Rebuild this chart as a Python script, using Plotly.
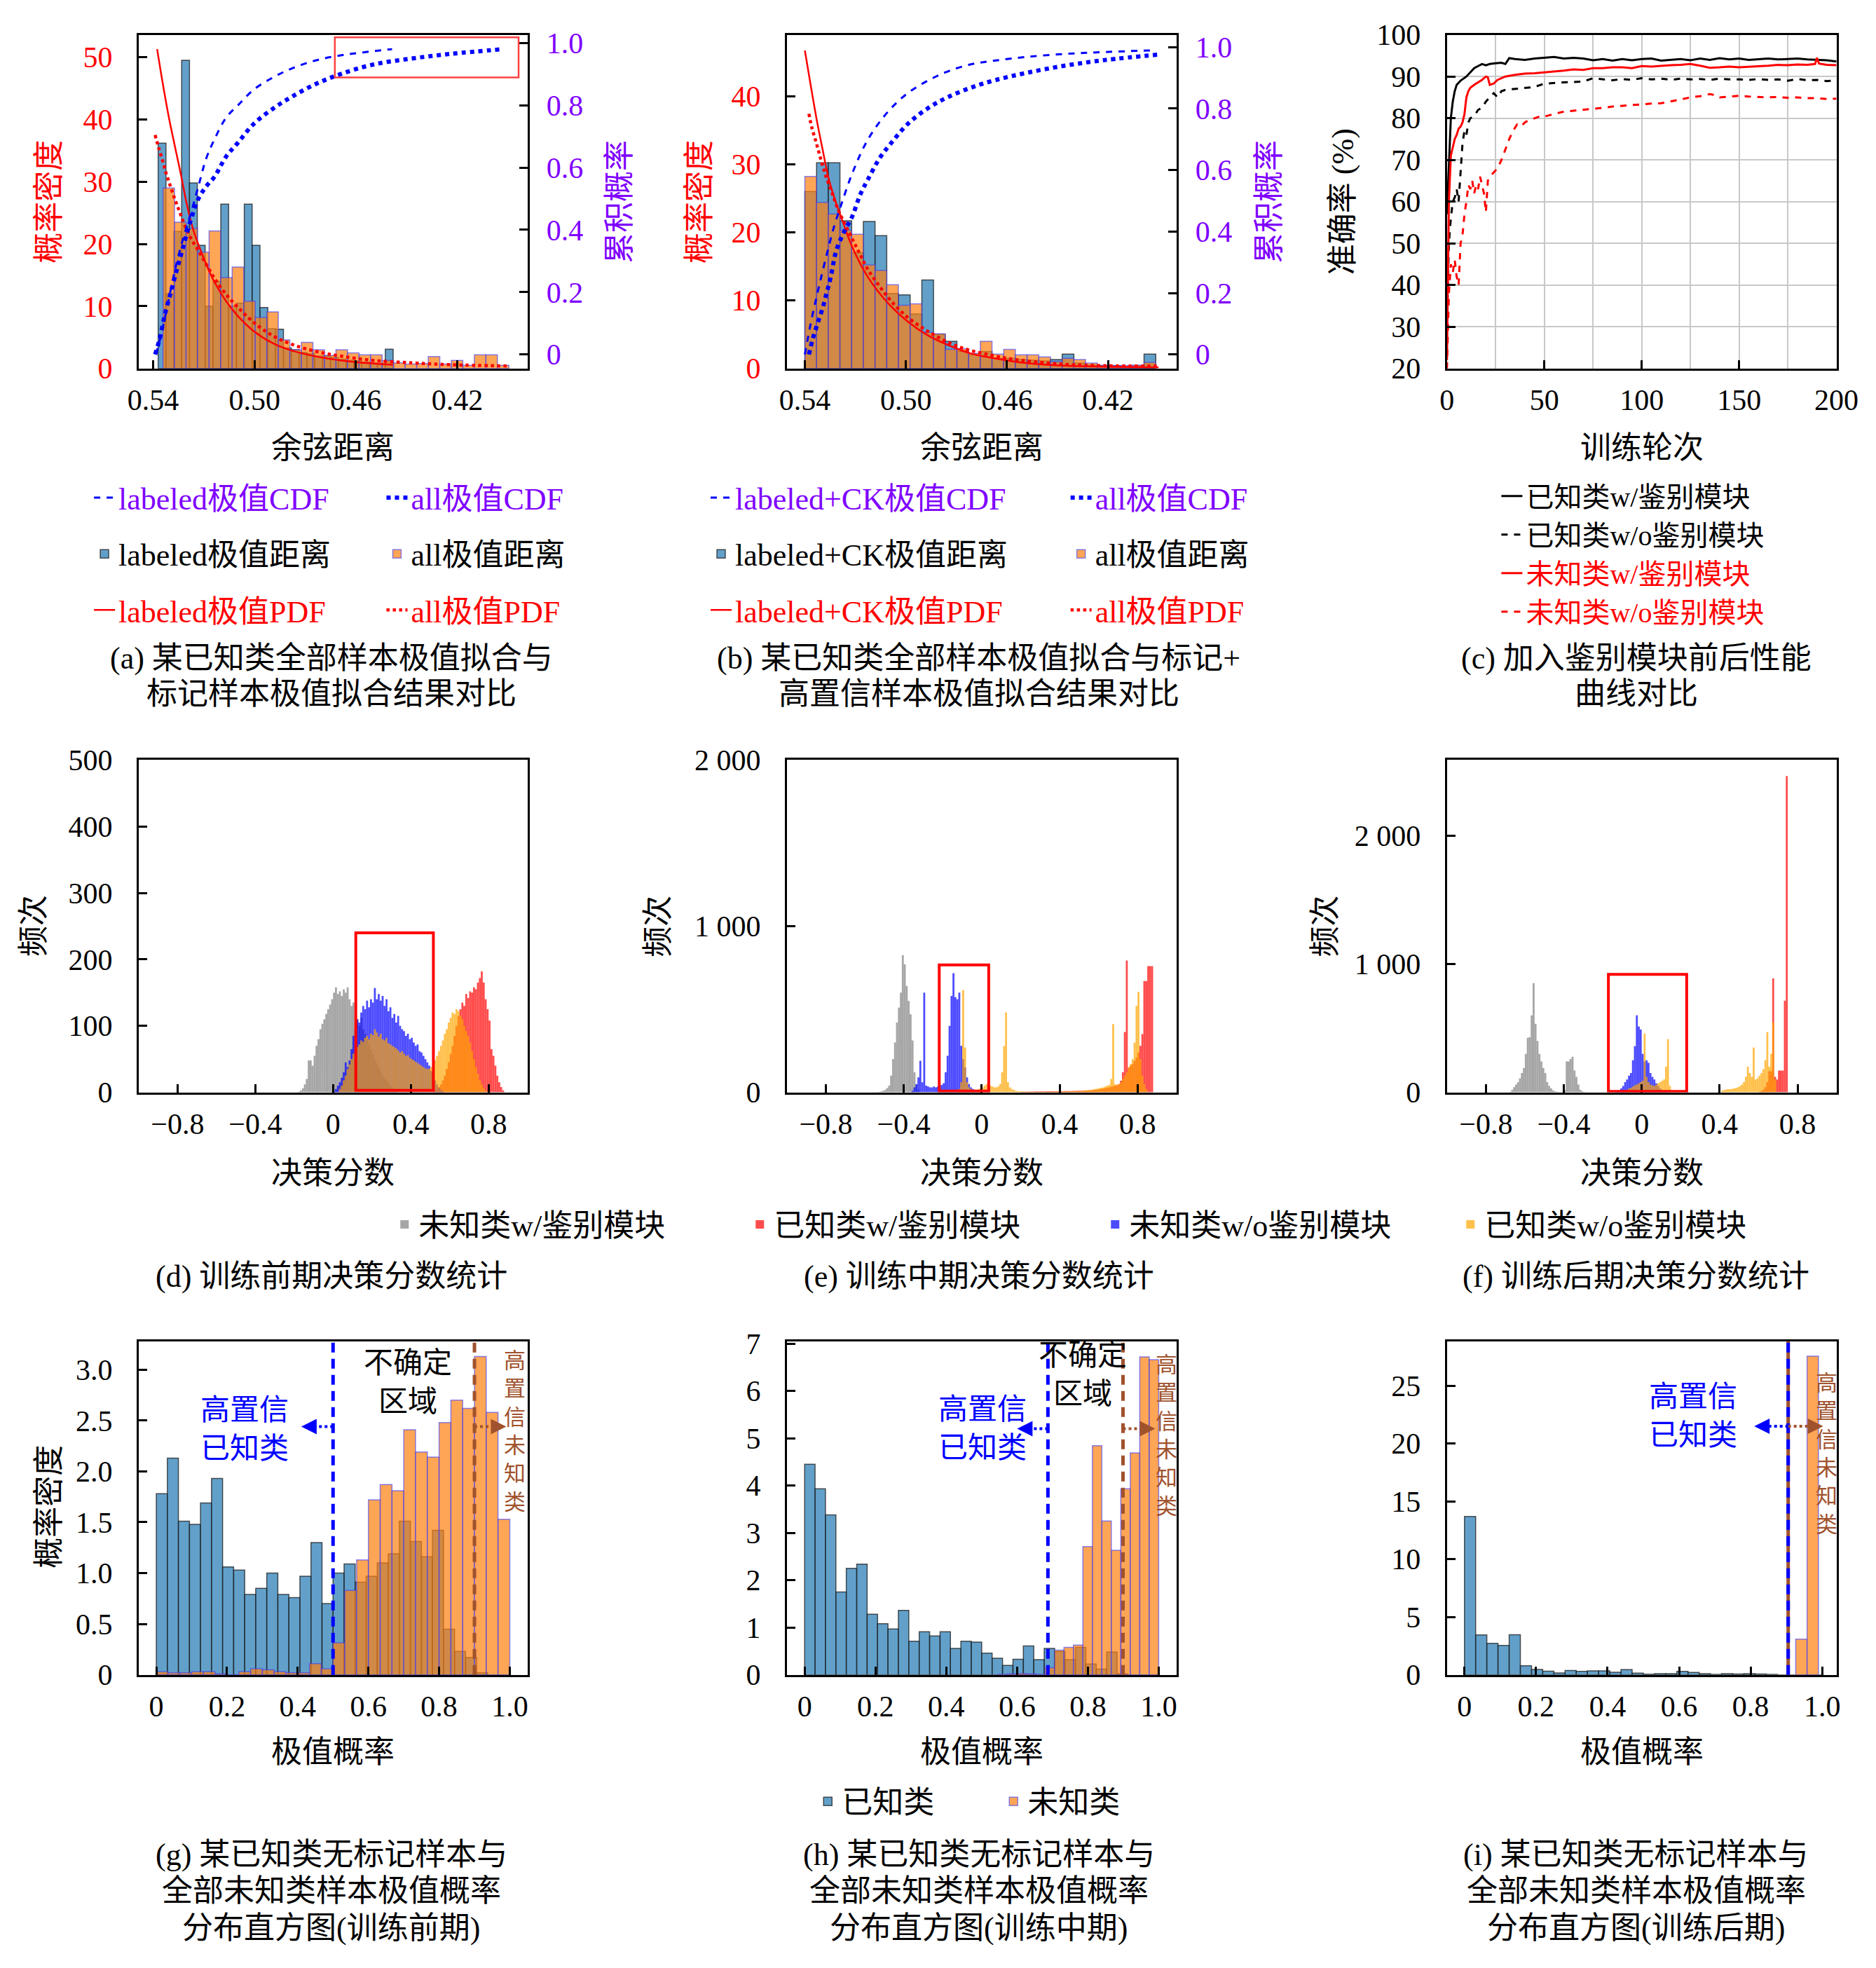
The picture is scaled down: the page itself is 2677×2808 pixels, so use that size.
import numpy as np
import plotly.graph_objects as go

W, H = 2677, 2808
FONT = "Liberation Serif, Noto Sans CJK SC, serif"

RED = "#ff0000"
PURPLE = "#7f00ff"
BLUE = "#0000ff"
BROWN = "#a0522d"
HIST_BLUE = "rgba(31,119,180,0.7)"
HIST_ORANGE = "rgba(255,127,14,0.7)"
EDGE_DARK = "rgba(30,30,30,0.75)"
EDGE_BLUE = "rgba(60,60,255,0.6)"
SC_GRAY = "rgba(128,128,128,0.7)"
SC_RED = "rgba(255,0,0,0.7)"
SC_BLUE = "rgba(0,0,255,0.7)"
SC_ORANGE = "rgba(255,165,0,0.7)"

# ---------------- (a) extreme-value fitting, labeled vs all ----------------
a_lab_edge0, a_lab_w = 0.5380, 0.00309
a_lab_counts = [36.2, 12.0, 22.0, 49.5, 29.8, 19.8, 10.0, 14.0, 26.4, 10.0,
                10.5, 26.4, 19.8, 9.8, 6.4, 6.3, 3.3, 3.0, 2.6, 2.4,
                2.0, 2.0, 1.8, 1.5, 1.3, 1.2, 1.0, 0.9, 0.8, 3.1]
a_all_edge0, a_all_w = 0.5361, 0.00455
a_all_counts = [29.0, 23.5, 22.5, 18.7, 22.1, 14.6, 16.3, 10.8, 8.2, 9.1,
                4.6, 3.0, 4.2, 3.0, 2.1, 3.0, 2.5, 2.2, 2.2, 1.3,
                0.9, 0.7, 0.8, 1.9, 0.7, 1.3, 0.5, 2.2, 2.2, 0.5]
a_lab_pdf_x = [0.5384, 0.5361, 0.5338, 0.5314, 0.5291, 0.5268, 0.5244, 0.5221, 0.5190, 0.5158,
               0.5112, 0.5065, 0.5003, 0.4925, 0.4847, 0.4753, 0.4660, 0.4566, 0.4454]
a_lab_pdf_y = [51.3, 45.6, 40.4, 35.7, 31.3, 26.6, 22.6, 19.9, 16.7, 13.9,
               10.8, 8.4, 6.0, 4.0, 2.8, 1.9, 1.3, 0.9, 0.6]
a_all_pdf_x = [0.5392, 0.5377, 0.5361, 0.5349, 0.5335, 0.5321, 0.5307, 0.5292, 0.5275, 0.5252,
               0.5221, 0.5190, 0.5158, 0.5112, 0.5065, 0.5003, 0.4925, 0.4847, 0.4753, 0.4660,
               0.4535, 0.4379, 0.4224, 0.4005]
a_all_pdf_y = [37.5, 35.3, 33.2, 31.4, 29.7, 28.0, 26.4, 24.8, 23.0, 21.0,
               18.9, 16.7, 14.5, 11.9, 9.8, 7.4, 5.2, 3.8, 2.7, 2.0,
               1.3, 0.9, 0.6, 0.4]
a_lab_cdf_x = [0.5389, 0.5369, 0.5345, 0.5322, 0.5299, 0.5275, 0.5252, 0.5221, 0.5190, 0.5158,
               0.5112, 0.5065, 0.5003, 0.4925, 0.4847, 0.4753, 0.4660, 0.4566, 0.4457]
a_lab_cdf_y = [0.0, 0.06, 0.15, 0.24, 0.32, 0.39, 0.45, 0.54, 0.63, 0.69,
               0.76, 0.80, 0.85, 0.89, 0.92, 0.945, 0.96, 0.97, 0.98]
a_all_cdf_x = [0.5392, 0.5374, 0.5353, 0.5330, 0.5307, 0.5283, 0.5252, 0.5221, 0.5190, 0.5158,
               0.5112, 0.5065, 0.5003, 0.4925, 0.4847, 0.4753, 0.4660, 0.4535, 0.4379, 0.4224,
               0.4018]
a_all_cdf_y = [0.0, 0.05, 0.13, 0.20, 0.27, 0.34, 0.43, 0.50, 0.54, 0.57,
               0.635, 0.68, 0.74, 0.79, 0.83, 0.87, 0.90, 0.93, 0.95, 0.965,
               0.98]

# ---------------- (b) labeled+CK vs all ----------------
b_edge0, b_w = 0.5400, 0.00463
b_lab_counts = [26.0, 30.2, 30.2, 21.7, 17.0, 21.6, 19.5, 11.0, 10.8, 8.0,
                13.0, 5.0, 4.0, 2.5, 2.0, 2.5, 1.5, 1.5, 1.3, 1.2,
                1.1, 1.3, 2.1, 0.8, 0.5, 0.4, 0.4, 0.3, 0.4, 2.1]
b_all_counts = [28.2, 24.4, 22.7, 20.3, 19.7, 15.2, 14.4, 12.3, 9.3, 9.5,
                5.3, 5.1, 2.8, 2.9, 2.2, 4.0, 2.1, 2.8, 2.0, 2.0,
                1.7, 1.0, 1.5, 1.3, 0.8, 0.5, 0.4, 0.4, 0.5, 0.9]
b_lab_pdf_x = [0.5400, 0.5377, 0.5353, 0.5330, 0.5306, 0.5283, 0.5259, 0.5212, 0.5150, 0.5071,
               0.4993, 0.4915, 0.4837, 0.4743, 0.4649, 0.4524, 0.4368, 0.4211, 0.4000]
b_lab_pdf_y = [46.7, 41.6, 36.5, 32.2, 27.9, 25.0, 22.5, 17.8, 13.4, 9.6,
               6.9, 4.9, 3.5, 2.2, 1.5, 0.8, 0.4, 0.25, 0.15]
b_all_pdf_x = [0.5384, 0.5372, 0.5356, 0.5342, 0.5328, 0.5314, 0.5298, 0.5284, 0.5267, 0.5244,
               0.5212, 0.5181, 0.5150, 0.5103, 0.5056, 0.4993, 0.4915, 0.4837, 0.4759, 0.4680,
               0.4602, 0.4524, 0.4368, 0.4211, 0.3995]
b_all_pdf_y = [37.4, 35.3, 33.3, 31.4, 29.6, 27.9, 26.4, 24.9, 23.2, 21.4,
               19.0, 16.7, 14.5, 12.0, 9.8, 7.5, 5.5, 3.9, 2.8, 2.1,
               1.5, 1.1, 0.6, 0.4, 0.35]
b_lab_cdf_x = [0.5400, 0.5377, 0.5353, 0.5330, 0.5306, 0.5283, 0.5259, 0.5212, 0.5150, 0.5071,
               0.4993, 0.4915, 0.4837, 0.4743, 0.4649, 0.4524, 0.4368, 0.4211, 0.4008]
b_lab_cdf_y = [0.0, 0.10, 0.19, 0.27, 0.35, 0.42, 0.48, 0.59, 0.70, 0.79,
               0.85, 0.89, 0.92, 0.944, 0.956, 0.968, 0.978, 0.984, 0.99]
b_all_cdf_x = [0.5384, 0.5369, 0.5350, 0.5330, 0.5314, 0.5298, 0.5275, 0.5244, 0.5212, 0.5181,
               0.5150, 0.5103, 0.5056, 0.4993, 0.4915, 0.4837, 0.4743, 0.4649, 0.4524, 0.4368,
               0.4211, 0.3995]
b_all_cdf_y = [0.0, 0.05, 0.10, 0.15, 0.20, 0.25, 0.34, 0.40, 0.45, 0.52,
               0.57, 0.64, 0.69, 0.75, 0.80, 0.836, 0.868, 0.892, 0.916, 0.94,
               0.958, 0.976]

# ---------------- (c) accuracy curves ----------------
c_ep_known_w = [0, 1, 2, 3, 4, 5, 7, 10, 12, 14, 16, 18, 20, 22, 25, 28, 30,
                32, 35, 40, 45, 50, 55, 60, 65, 70, 75] + list(range(80, 201, 5))
c_acc_known_w = [57, 70, 80, 84, 86.5, 88, 89, 90, 91, 92, 92.5, 93, 92.7, 93, 93.2, 93.3, 93.0,
                 94.4, 94.2, 94.0, 94.3, 94.5, 94.7, 94.3, 94.5, 94.3, 93.9,
                 94.2, 93.8, 94.2, 93.9, 94.2, 94.3, 93.8, 94.0, 94.2, 93.9, 94.3, 94.0, 94.4,
                 94.1, 94.3, 94.0, 94.1, 94.3, 94.1, 94.2, 94.3, 94.1, 94.0, 93.9, 93.6]
c_ep_known_wo = list(range(0, 13)) + [14, 16, 18, 20, 22, 24, 26, 28, 30,
                                      35, 40, 45, 50, 55, 60, 65, 70, 75] + list(range(80, 201, 5))
c_acc_known_wo = [30, 50, 56, 60, 61, 63, 60, 68, 74, 77, 76, 79, 80,
                  80.5, 82, 82.5, 84, 85, 86, 85, 86.5, 86.8,
                  87, 87.3, 87.5, 88.3, 88.5, 88.6, 88.7, 88.8, 89.6,
                  89.3, 89.1, 89.4, 89.2, 89.6, 89.3, 89.5, 89.2, 89.5, 89.3, 89.4, 89.2, 89.5,
                  89.3, 89.3, 89.2, 89.4, 89.2, 89.3, 89.0, 89.4, 89.1, 89.2, 88.9, 89.1]
c_ep_unknown_w = list(range(0, 13)) + [14, 16, 18, 20, 21, 22, 24, 26, 28, 30] + \
    list(range(35, 186, 5)) + [189, 190, 191, 195, 200]
c_acc_unknown_w = [22, 60, 71, 73, 75, 76, 77.5, 78, 79, 81, 85, 86.5, 87.3,
                   88, 88.6, 89.2, 90, 89.8, 88, 88.3, 89.2, 89.6, 90,
                   90.4, 90.7, 90.8, 91, 91.1, 91.4, 91.7, 91.6, 92, 92, 92.2, 92.2, 92, 92.5,
                   92.4, 92.6, 92.7, 92.8, 93, 92.6, 92.1, 92.2, 92.4, 92.2, 92.3, 92.5, 92.6,
                   92.8, 92.7, 92.9, 92.8,
                   93, 94.5, 93.1, 92.8, 92.7]
c_ep_unknown_wo = list(range(0, 23)) + [24, 26, 28, 30, 32, 34, 36, 38, 40, 42, 45, 48, 50] + \
    list(range(55, 136, 5)) + [138, 140] + list(range(145, 201, 5))
c_acc_unknown_wo = [20, 38, 45, 43, 46, 42, 40, 50, 52, 57, 60, 64, 63, 65, 62, 64, 63, 66, 64, 62,
                    57.5, 65, 66,
                    67, 68, 70, 72.5, 75, 77, 78.5, 78, 79, 79.5, 80, 80.5, 80.4,
                    81, 81.6, 81.8, 82, 82.3, 82.5, 82.8, 83, 83.2, 83.4, 83.5, 83.6, 84.0, 84.5,
                    85, 85.3, 85.8,
                    85.5, 85,
                    85.2, 85.4, 85.2, 85.1, 85.0, 85.1, 84.9, 85.0, 84.8, 84.8, 84.6, 84.7]

# ---------------- (d)(e)(f) decision-score histograms (bin 0.01) ----------------
SCORE_BIN = 0.01
d_gray_x0 = -0.18
d_gray = [1, 3, 6, 12, 20, 48, 48, 40, 55, 70, 80, 95, 103, 110, 118, 125, 132, 140, 150, 158,
          148, 152, 145, 155, 150, 158, 140, 130, 135, 118, 110, 100, 112, 95, 88, 80, 72, 65, 58, 50,
          44, 38, 32, 27, 22, 18, 14, 10, 7, 5, 3]
d_red_x0 = 0.52
d_red = [3, 5, 8, 12, 18, 25, 35, 45, 58, 70, 85, 100, 115, 125, 135, 130, 148, 142, 152, 150,
         158, 155, 165, 172, 182, 165, 140, 125, 108, 65, 55, 40, 25, 15, 8, 3]
d_blue_x0 = 0.00
d_blue = [2, 5, 10, 15, 22, 30, 45, 38, 48, 65, 85, 95, 110, 105, 120, 130, 125, 138, 128, 140,
          135, 157, 140, 148, 138, 145, 130, 140, 122, 128, 112, 118, 105, 115, 100, 95, 92, 85, 88, 80,
          82, 75, 70, 72, 62, 60, 55, 50, 45, 40, 32, 25, 18, 12, 7, 4, 2]
d_orange_x0 = 0.03
d_orange = [5, 10, 18, 25, 35, 42, 50, 58, 62, 68, 72, 78, 76, 82, 85, 80, 88, 86, 95, 90,
            84, 88, 80, 78, 82, 74, 72, 70, 68, 66, 63, 60, 62, 58, 55, 56, 52, 50, 48, 46,
            44, 42, 40, 38, 36, 35, 36, 38, 42, 48, 55, 62, 70, 78, 88, 95, 105, 112, 120, 118,
            125, 122, 115, 110, 100, 92, 85, 75, 62, 50, 38, 28, 18, 12, 6, 3]
d_box = [0.117, 0.516, 3, 240]

e_gray_x0 = -0.54
e_gray = [2, 3, 5, 10, 15, 25, 40, 100, 200, 300, 420, 510, 600, 826, 770, 640, 550, 470, 312, 120,
          45, 15]
e_red_x0 = 0.20
e_red = [3, 3, 3, 4, 4, 4, 4, 5, 5, 5, 5, 5, 5, 6, 6, 6, 6, 6, 7, 7,
         7, 7, 8, 8, 8, 8, 9, 9, 9, 10, 10, 10, 11, 11, 12, 12, 13, 14, 15, 16,
         18, 20, 22, 25, 28, 30, 33, 36, 40, 45, 50, 70, 120, 363, 793, 150, 160, 170, 190, 210,
         240, 280, 350, 670, 670, 759, 760, 760, 0]
e_blue_x0 = -0.36
e_blue = [10, 30, 50, 90, 190, 60, 600, 40, 35, 30, 30, 35, 30, 35, 40, 45, 55, 120, 220, 400,
          580, 717, 573, 560, 600, 280, 200, 150, 90, 50, 30, 20, 12, 8, 5]
e_orange_x0 = -0.12
e_orange = [20, 60, 615, 270, 60, 30, 20, 15, 12, 15, 20, 25, 30, 40, 50, 45, 40, 35, 30, 30,
            35, 50, 120, 278, 481, 60, 30, 20, 15, 10, 8, 6, 5, 4, 4, 3, 3, 3, 3, 3,
            3, 3, 3, 3, 3, 3, 3, 3, 4, 4, 4, 4, 4, 5, 5, 5, 5, 6, 6, 7,
            7, 8, 8, 10, 10, 12, 12, 15, 15, 18, 20, 22, 25, 28, 30, 35, 40, 45, 80, 410,
            50, 45, 50, 60, 80, 100, 120, 150, 170, 200, 300, 520, 604, 200, 100, 50, 20]
e_box = [-0.218, 0.036, 8, 767]

f_gray_x0 = -0.68
f_gray = [5, 20, 40, 60, 80, 109, 150, 190, 300, 425, 430, 600, 851, 534, 400, 300, 240, 190, 150, 80,
          50, 30, 15, 8, 5, 3, 3, 5, 20, 240, 240, 260, 277, 170, 120, 60, 20, 8, 3]
f_red_x0 = 0.60
f_red = [5, 10, 20, 40, 80, 164, 164, 888, 120, 100, 170, 170, 170, 715, 2465]
f_blue_x0 = -0.13
f_blue = [5, 15, 30, 50, 80, 100, 130, 150, 250, 360, 600, 513, 490, 300, 240, 250, 230, 150, 120, 100,
          70, 50, 30, 15, 8, 4, 2]
f_orange_x0 = -0.10
f_orange = [10, 15, 20, 30, 35, 45, 55, 60, 70, 80, 90, 458, 120, 80, 60, 55, 50, 60, 70, 80,
            90, 100, 200, 414, 50, 20, 10, 5, 2, 1, 0, 0, 0, 0, 0, 0, 0, 0, 0, 0,
            0, 0, 0, 0, 0, 0, 0, 0, 0, 0, 3, 15, 20, 22, 25, 25, 28, 30, 35, 40,
            50, 60, 80, 120, 200, 150, 120, 349, 100, 110, 130, 150, 180, 250, 469, 200, 300, 545, 100]
f_box = [-0.171, 0.231, 7, 920]

# ---------------- (g)(h)(i) extreme-probability histograms ----------------
g_known_w = 1 / 32
g_known = [1.78, 2.13, 1.51, 1.48, 1.69, 1.93, 1.06, 1.03, 0.79, 0.85, 1.00, 0.79, 0.76, 0.97, 1.30, 0.70,
           1.00, 1.09, 0.91, 0.97, 1.10, 1.19, 1.51, 1.31, 1.16, 1.42, 0.45, 0.23, 0.17, 0.02, 0.0, 0.0]
g_unknown_w = 1 / 30
g_unknown = [0.03, 0.02, 0.02, 0.03, 0.03, 0.01, 0.0, 0.03, 0.06, 0.05, 0.03, 0.02, 0.02, 0.11, 0.06,
             0.315, 0.83, 1.13, 1.72, 1.87, 1.81, 2.41, 2.19, 2.14, 2.48, 2.70, 2.62, 3.13, 2.58, 1.53]
g_thr_known, g_thr_unknown = 0.5, 0.9

h_known_w = 1 / 34
h_known = [4.45, 3.93, 3.38, 1.75, 2.25, 2.34, 1.28, 1.08, 0.97, 1.36, 0.71, 0.91, 0.82, 0.91, 0.56, 0.71,
           0.69, 0.46, 0.35, 0.20, 0.33, 0.61, 0.32, 0.56, 0.49, 0.32, 0.58, 0.23, 0.12, 0.48, 0.02, 0.0,
           0.0, 0.0]
h_unknown_x0, h_unknown_w = 0.545, 0.02675
h_unknown = [0.01, 0.02, 0.03, 0.02, 0.01, 0.15, 0.52, 0.58, 0.63, 2.71, 4.84, 3.25, 2.63, 3.93, 4.69,
             6.72, 6.66]
h_thr_known, h_thr_unknown = 0.687, 0.899

i_known_w = 1 / 32
i_known = [13.7, 3.45, 2.73, 2.54, 3.47, 0.79, 0.47, 0.32, 0.17, 0.38, 0.30, 0.34, 0.34, 0.23, 0.45, 0.15,
           0.06, 0.10, 0.10, 0.30, 0.21, 0.10, 0.04, 0.10, 0.08, 0.10, 0.08, 0.04, 0.0, 0.0, 0.0, 0.0]
i_unknown_x0, i_unknown_w = 0.926, 0.0318
i_unknown = [3.09, 27.56]
i_thr = 0.905


def px(v):
    return v / W


def py(v):
    return 1 - v / H


def tf(color="black", size=42):
    return dict(family=FONT, size=size, color=color)


def span(text, color):
    return f'<span style="color:{color}">{text}</span>'


def centers(x0, w, n, sign=1):
    return x0 + sign * w * (np.arange(n) + 0.5)


def axis(**kw):
    base = dict(showline=True, linecolor="black", linewidth=3, mirror=True,
                ticks="inside", ticklen=12, tickwidth=2.5, tickcolor="black",
                showgrid=False, zeroline=False, ticklabelstandoff=26, tickfont=tf())
    base.update(kw)
    return base


def xaxis_(**kw):
    return axis(ticklabelstandoff=6, **kw)


def right_axis(**kw):
    base = dict(side="right", showline=False, ticks="inside", ticklen=12, tickwidth=2.5,
                tickcolor="black", showgrid=False, zeroline=False, ticklabelstandoff=26,
                tickfont=tf(PURPLE))
    base.update(kw)
    return base


fig = go.Figure()

# ---- row 1: (a) and (b) ----
row1_sets = [
    dict(xa="x", ya="y", y2="y2", la="legend", lb="legend2", tag="labeled",
         lab=(a_lab_edge0, a_lab_w, a_lab_counts), all=(a_all_edge0, a_all_w, a_all_counts),
         lpdf=(a_lab_pdf_x, a_lab_pdf_y), apdf=(a_all_pdf_x, a_all_pdf_y),
         lcdf=(a_lab_cdf_x, a_lab_cdf_y), acdf=(a_all_cdf_x, a_all_cdf_y)),
    dict(xa="x2", ya="y3", y2="y4", la="legend3", lb="legend4", tag="labeled+CK",
         lab=(b_edge0, b_w, b_lab_counts), all=(b_edge0, b_w, b_all_counts),
         lpdf=(b_lab_pdf_x, b_lab_pdf_y), apdf=(b_all_pdf_x, b_all_pdf_y),
         lcdf=(b_lab_cdf_x, b_lab_cdf_y), acdf=(b_all_cdf_x, b_all_cdf_y)),
]
for k, s in enumerate(row1_sets):
    e0, w, cnt = s["lab"]
    fig.add_trace(go.Bar(x=centers(e0, w, len(cnt), -1), y=cnt, width=w,
                         marker=dict(color=HIST_BLUE, line=dict(color=EDGE_DARK, width=1.5)),
                         name=f"{s['tag']}极值距离", legend=s["la"], legendgroup=f"g{k}b",
                         legendrank=2, xaxis=s["xa"], yaxis=s["ya"]))
    e0, w, cnt = s["all"]
    fig.add_trace(go.Bar(x=centers(e0, w, len(cnt), -1), y=cnt, width=w,
                         marker=dict(color=HIST_ORANGE, line=dict(color=EDGE_BLUE, width=1.5)),
                         name="all极值距离", legend=s["lb"], legendgroup=f"g{k}e",
                         legendrank=2, xaxis=s["xa"], yaxis=s["ya"]))
    fig.add_trace(go.Scatter(x=s["lpdf"][0], y=s["lpdf"][1], mode="lines", line_shape="spline",
                             line=dict(color=RED, width=2.5),
                             name=span(f"{s['tag']}极值PDF", RED), legend=s["la"],
                             legendgroup=f"g{k}c", legendrank=3, xaxis=s["xa"], yaxis=s["ya"]))
    fig.add_trace(go.Scatter(x=s["apdf"][0], y=s["apdf"][1], mode="lines", line_shape="spline",
                             line=dict(color=RED, width=4.5, dash="dot"),
                             name=span("all极值PDF", RED), legend=s["lb"],
                             legendgroup=f"g{k}f", legendrank=3, xaxis=s["xa"], yaxis=s["ya"]))
    fig.add_trace(go.Scatter(x=s["lcdf"][0], y=s["lcdf"][1], mode="lines", line_shape="spline",
                             line=dict(color=BLUE, width=3, dash="dash"),
                             name=span(f"{s['tag']}极值CDF", PURPLE), legend=s["la"],
                             legendgroup=f"g{k}a", legendrank=1, xaxis=s["xa"], yaxis=s["y2"]))
    fig.add_trace(go.Scatter(x=s["acdf"][0], y=s["acdf"][1], mode="lines", line_shape="spline",
                             line=dict(color=BLUE, width=6, dash="dot"),
                             name=span("all极值CDF", PURPLE), legend=s["lb"],
                             legendgroup=f"g{k}d", legendrank=1, xaxis=s["xa"], yaxis=s["y2"]))

# ---- row 1: (c) ----
c_series = [
    (c_ep_known_w, c_acc_known_w, "black", "solid", "已知类w/鉴别模块"),
    (c_ep_known_wo, c_acc_known_wo, "black", "dash", "已知类w/o鉴别模块"),
    (c_ep_unknown_w, c_acc_unknown_w, RED, "solid", "未知类w/鉴别模块"),
    (c_ep_unknown_wo, c_acc_unknown_wo, RED, "dash", "未知类w/o鉴别模块"),
]
for ep, acc, col, dash, nm in c_series:
    fig.add_trace(go.Scatter(x=ep, y=acc, mode="lines", line=dict(color=col, width=3, dash=dash),
                             name=span(nm, col), legend="legend5", xaxis="x3", yaxis="y5"))

# ---- row 2: (d)(e)(f) ----
row2_sets = [
    ("x4", "y6", True, [(d_gray_x0, d_gray), (d_red_x0, d_red), (d_blue_x0, d_blue), (d_orange_x0, d_orange)]),
    ("x5", "y7", False, [(e_gray_x0, e_gray), (e_red_x0, e_red), (e_blue_x0, e_blue), (e_orange_x0, e_orange)]),
    ("x6", "y8", False, [(f_gray_x0, f_gray), (f_red_x0, f_red), (f_blue_x0, f_blue), (f_orange_x0, f_orange)]),
]
row2_names = ["未知类w/鉴别模块", "已知类w/鉴别模块", "未知类w/o鉴别模块", "已知类w/o鉴别模块"]
row2_colors = [SC_GRAY, SC_RED, SC_BLUE, SC_ORANGE]
for xa, ya, show, series in row2_sets:
    for (x0, cnt), nm, col in zip(series, row2_names, row2_colors):
        fig.add_trace(go.Bar(x=centers(x0, SCORE_BIN, len(cnt)), y=cnt, width=SCORE_BIN,
                             marker=dict(color=col, line=dict(width=0)), name=nm,
                             showlegend=show, legend="legend6", xaxis=xa, yaxis=ya))

# ---- row 3: (g)(h)(i) ----
row3_sets = [
    ("x7", "y9", False, (0.0, g_known_w, g_known), (0.0, g_unknown_w, g_unknown)),
    ("x8", "y10", True, (0.0, h_known_w, h_known), (h_unknown_x0, h_unknown_w, h_unknown)),
    ("x9", "y11", False, (0.0, i_known_w, i_known), (i_unknown_x0, i_unknown_w, i_unknown)),
]
for xa, ya, show, kn, un in row3_sets:
    fig.add_trace(go.Bar(x=centers(kn[0], kn[1], len(kn[2])), y=kn[2], width=kn[1],
                         marker=dict(color=HIST_BLUE, line=dict(color=EDGE_DARK, width=1.5)),
                         name="已知类", showlegend=show, legend="legend7", xaxis=xa, yaxis=ya))
    fig.add_trace(go.Bar(x=centers(un[0], un[1], len(un[2])), y=un[2], width=un[1],
                         marker=dict(color=HIST_ORANGE, line=dict(color=EDGE_BLUE, width=1.5)),
                         name="未知类", showlegend=show, legend="legend7", xaxis=xa, yaxis=ya))

# ---------------- layout ----------------
col_a = [px(177), px(742)]
col_b = [px(1119), px(1685)]
col_c = [px(2078), px(2644)]
row1 = [py(504), py(20)]
row2 = [py(1554), py(1072)]
row3 = [py(2399), py(1915)]

cos_ticks = dict(tickvals=[0.54, 0.50, 0.46, 0.42], ticktext=["0.54", "0.50", "0.46", "0.42"])
cdf_ticks = dict(tickvals=[0, 0.2, 0.4, 0.6, 0.8, 1.0], ticktext=["0", "0.2", "0.4", "0.6", "0.8", "1.0"])
score_ticks = dict(tickvals=[-0.8, -0.4, 0, 0.4, 0.8],
                   ticktext=["\u22120.8", "\u22120.4", "0", "0.4", "0.8"])
prob_ticks = dict(tickvals=[0, 0.2, 0.4, 0.6, 0.8, 1.0], ticktext=["0", "0.2", "0.4", "0.6", "0.8", "1.0"])
GRID = "#c8c8c8"

layout = dict(
    width=W, height=H, margin=dict(l=0, r=0, t=0, b=0),
    paper_bgcolor="white", plot_bgcolor="white", barmode="overlay",
    font=dict(family=FONT, size=42, color="black"),
    xaxis=xaxis_(domain=col_a, anchor="y", range=[0.5457, 0.3923], **cos_ticks),
    yaxis=axis(domain=row1, anchor="x", range=[0, 53.6], tickvals=[0, 10, 20, 30, 40, 50], tickfont=tf(RED)),
    yaxis2=right_axis(overlaying="y", anchor="x", range=[-0.045, 1.026], **cdf_ticks),
    xaxis2=xaxis_(domain=col_b, anchor="y3", range=[0.5471, 0.3929], **cos_ticks),
    yaxis3=axis(domain=row1, anchor="x2", range=[0, 49], tickvals=[0, 10, 20, 30, 40], tickfont=tf(RED)),
    yaxis4=right_axis(overlaying="y3", anchor="x2", range=[-0.0456, 1.04], **cdf_ticks),
    xaxis3=xaxis_(domain=col_c, anchor="y5", range=[0, 200], tickvals=[0, 50, 100, 150, 200],
                  showgrid=True, gridcolor=GRID, gridwidth=2,
                  minor=dict(tick0=0, dtick=25, showgrid=True, gridcolor=GRID, gridwidth=2, ticks="")),
    yaxis5=axis(domain=row1, anchor="x3", range=[20, 100], dtick=10, tick0=20,
                showgrid=True, gridcolor=GRID, gridwidth=2),
    xaxis4=xaxis_(domain=col_a, anchor="y6", range=[-1, 1], **score_ticks),
    yaxis6=axis(domain=row2, anchor="x4", range=[0, 500], dtick=100),
    xaxis5=xaxis_(domain=col_b, anchor="y7", range=[-1, 1], **score_ticks),
    yaxis7=axis(domain=row2, anchor="x5", range=[0, 2000], tickvals=[0, 1000, 2000],
                ticktext=["0", "1 000", "2 000"]),
    xaxis6=xaxis_(domain=col_c, anchor="y8", range=[-1, 1], **score_ticks),
    yaxis8=axis(domain=row2, anchor="x6", range=[0, 2590], tickvals=[0, 1000, 2000],
                ticktext=["0", "1 000", "2 000"]),
    xaxis7=xaxis_(domain=col_a, anchor="y9", range=[-0.05, 1.05], **prob_ticks),
    yaxis9=axis(domain=row3, anchor="x7", range=[0, 3.28], tickvals=[0, 0.5, 1, 1.5, 2, 2.5, 3],
                ticktext=["0", "0.5", "1.0", "1.5", "2.0", "2.5", "3.0"]),
    xaxis8=xaxis_(domain=col_b, anchor="y10", range=[-0.05, 1.05], **prob_ticks),
    yaxis10=axis(domain=row3, anchor="x8", range=[0, 7.05], dtick=1),
    xaxis9=xaxis_(domain=col_c, anchor="y11", range=[-0.049, 1.04], **prob_ticks),
    yaxis11=axis(domain=row3, anchor="x9", range=[0, 28.86], dtick=5),
)

leg_v = dict(bgcolor="rgba(0,0,0,0)", borderwidth=0, font=tf("black", 44), orientation="v",
             xanchor="left", yanchor="middle", tracegroupgap=20, traceorder="grouped")
layout["legend"] = dict(leg_v, x=px(107), y=py(773))
layout["legend2"] = dict(leg_v, x=px(532), y=py(773))
layout["legend3"] = dict(leg_v, x=px(1003), y=py(773))
layout["legend4"] = dict(leg_v, x=px(1526), y=py(773))
layout["legend5"] = dict(leg_v, x=px(2152), y=py(773), font=tf("black", 40), tracegroupgap=0,
                         traceorder="normal")
layout["legend6"] = dict(bgcolor="rgba(0,0,0,0)", font=tf("black", 44), orientation="h",
                         xanchor="left", yanchor="middle", x=px(543), y=py(1746),
                         entrywidth=462, entrywidthmode="pixels")
layout["legend7"] = dict(bgcolor="rgba(0,0,0,0)", font=tf("black", 44), orientation="h",
                         xanchor="left", yanchor="middle", x=px(1158), y=py(2583),
                         entrywidth=220, entrywidthmode="pixels")

annotations = []


def note(text, x, y, size=44, color="black", angle=0, xref="paper", yref="paper", **kw):
    annotations.append(dict(text=text, x=x, y=y, xref=xref, yref=yref, showarrow=False,
                            font=tf(color, size), textangle=angle, xanchor="center",
                            yanchor="middle", **kw))


# axis titles
for cx, t in [(459.5, "余弦距离"), (1402, "余弦距离"), (2361, "训练轮次")]:
    note(t, px(cx), py(620))
for cx in [459.5, 1402, 2361]:
    note("决策分数", px(cx), py(1672))
    note("极值概率", px(cx), py(2512))
note("概率密度", px(48), py(262), color=RED, angle=-90)
note("累积概率", px(876), py(262), color=PURPLE, angle=-90)
note("概率密度", px(992), py(262), color=RED, angle=-90)
note("累积概率", px(1820), py(262), color=PURPLE, angle=-90)
note("准确率 (%)", px(1927), py(262), angle=-90)
for cx in [25, 932, 1902]:
    note("频次", px(cx), py(1313), angle=-90)
note("概率密度", px(48), py(2155), angle=-90)

# captions
captions = [
    (457, [(925, "(a) 某已知类全部样本极值拟合与"), (976, "标记样本极值拟合结果对比")]),
    (1398, [(925, "(b) 某已知类全部样本极值拟合与标记+"), (976, "高置信样本极值拟合结果对比")]),
    (2353, [(925, "(c) 加入鉴别模块前后性能"), (976, "曲线对比")]),
    (457, [(1821, "(d) 训练前期决策分数统计")]),
    (1398, [(1821, "(e) 训练中期决策分数统计")]),
    (2353, [(1821, "(f) 训练后期决策分数统计")]),
    (457, [(2660, "(g) 某已知类无标记样本与"), (2713, "全部未知类样本极值概率"), (2767, "分布直方图(训练前期)")]),
    (1398, [(2660, "(h) 某已知类无标记样本与"), (2713, "全部未知类样本极值概率"), (2767, "分布直方图(训练中期)")]),
    (2353, [(2660, "(i) 某已知类无标记样本与"), (2713, "全部未知类样本极值概率"), (2767, "分布直方图(训练后期)")]),
]
for cx, lines in captions:
    for cy, t in lines:
        note(t, px(cx), py(cy), size=44)

shapes = []
# red box in (a)
shapes.append(dict(type="rect", xref="x", yref="y2", x0=0.4683, x1=0.3958, y0=0.889, y1=1.018,
                   line=dict(color="rgba(255,0,0,0.75)", width=2.5)))
# red boxes in row 2
for (xa, ya), bx in zip([("x4", "y6"), ("x5", "y7"), ("x6", "y8")], [d_box, e_box, f_box]):
    shapes.append(dict(type="rect", xref=xa, yref=ya, x0=bx[0], x1=bx[1], y0=bx[2], y1=bx[3],
                       line=dict(color=RED, width=4)))

VERT = "<br>".join("高置信未知类")
row3_marks = [
    dict(xa="x7", ya="y9", tk=g_thr_known, tu=g_thr_unknown, ay=2.44, tipk=0.41, tipu=0.99,
         dk=0.03, known_txt=(0.25, 2.41), unc_txt=(0.712, 2.875), vert=(1.013, 2.39)),
    dict(xa="x8", ya="y10", tk=h_thr_known, tu=h_thr_unknown, ay=5.2, tipk=0.60, tipu=0.99,
         dk=0.03, known_txt=(0.503, 5.2), unc_txt=(0.785, 6.34), vert=(1.022, 5.05)),
    dict(xa="x9", ya="y11", tk=i_thr, tu=i_thr, ay=21.5, tipk=0.81, tipu=1.003,
         dk=0.03, known_txt=(0.639, 22.4), unc_txt=None, vert=(1.013, 19.1)),
]
for m in row3_marks:
    xa, ya = m["xa"], m["ya"]
    shapes.append(dict(type="line", xref=xa, yref=f"{ya} domain", x0=m["tu"], x1=m["tu"], y0=0, y1=1,
                       line=dict(color=BROWN, width=5, dash="solid" if m["tu"] == m["tk"] else "14px,9px")))
    shapes.append(dict(type="line", xref=xa, yref=f"{ya} domain", x0=m["tk"], x1=m["tk"], y0=0, y1=1,
                       line=dict(color=BLUE, width=5, dash="14px,9px")))
    shapes.append(dict(type="line", xref=xa, yref=ya, x0=m["tk"], x1=m["tipk"] + 0.02, y0=m["ay"], y1=m["ay"],
                       line=dict(color=BLUE, width=4, dash="dot")))
    shapes.append(dict(type="line", xref=xa, yref=ya, x0=m["tu"], x1=m["tipu"] - 0.02, y0=m["ay"], y1=m["ay"],
                       line=dict(color=BROWN, width=4, dash="dot")))
    annotations.append(dict(text="", x=m["tipk"], y=m["ay"], ax=m["tipk"] + m["dk"], ay=m["ay"],
                            xref=xa, yref=ya, axref=xa, ayref=ya, showarrow=True, arrowhead=2,
                            arrowsize=1.1, arrowwidth=4, arrowcolor=BLUE))
    annotations.append(dict(text="", x=m["tipu"], y=m["ay"], ax=m["tipu"] - m["dk"], ay=m["ay"],
                            xref=xa, yref=ya, axref=xa, ayref=ya, showarrow=True, arrowhead=2,
                            arrowsize=1.1, arrowwidth=4, arrowcolor=BROWN))
    note("高置信<br>已知类", m["known_txt"][0], m["known_txt"][1], size=42, color=BLUE, xref=xa, yref=ya)
    if m["unc_txt"]:
        note("不确定<br>区域", m["unc_txt"][0], m["unc_txt"][1], size=42, xref=xa, yref=ya)
    note(VERT, m["vert"][0], m["vert"][1], size=31, color=BROWN, xref=xa, yref=ya)

layout["annotations"] = annotations
layout["shapes"] = shapes
fig.update_layout(**layout)

fig.write_html("out.html")
